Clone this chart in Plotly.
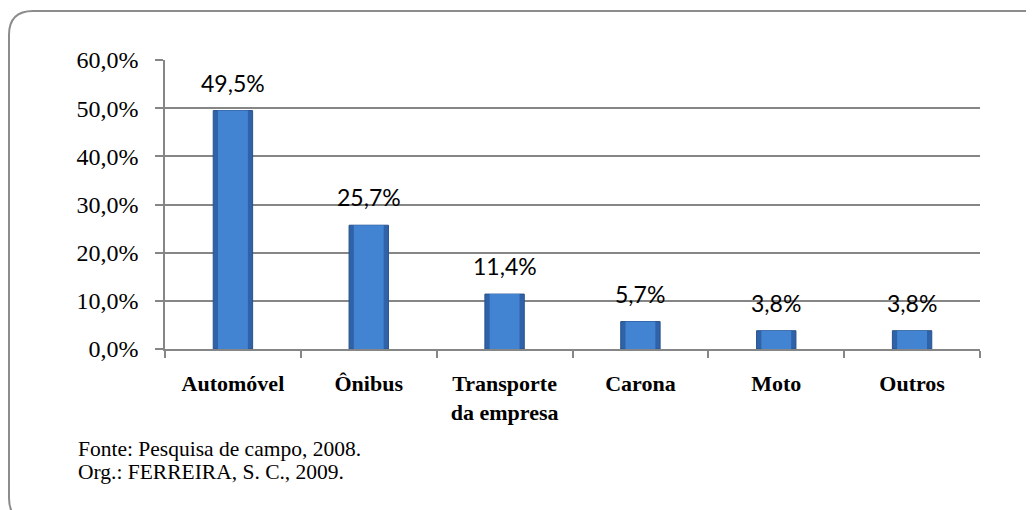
import plotly.graph_objects as go

categories = ["Automóvel", "Ônibus", "Transporte<br>da empresa", "Carona", "Moto", "Outros"]
values = [49.5, 25.7, 11.4, 5.7, 3.8, 3.8]
value_labels = ["49,5%", "25,7%", "11,4%", "5,7%", "3,8%", "3,8%"]
y_ticks = [0, 10, 20, 30, 40, 50, 60]
y_tick_labels = ["0,0%", "10,0%", "20,0%", "30,0%", "40,0%", "50,0%", "60,0%"]
note_lines = ["Fonte: Pesquisa de campo, 2008.", "Org.: FERREIRA, S. C., 2009."]

SERIF = "Liberation Serif, Times New Roman, serif"

# page has an 8px body margin; plot area at page px x 165..980, y 60..349
W, H = 1026, 502
ml, mr, mt, mb = 157, 54, 52, 161
PX0, PY0 = 165, 349          # page px of plot-area bottom-left
PW, PH = 815, 289

fig = go.Figure()
fig.add_trace(go.Bar(
    x=categories, y=values,
    marker=dict(color="#2F62A8", line=dict(color="#28528C", width=1)),
    width=0.29, hoverinfo="skip",
))
fig.add_trace(go.Bar(
    x=categories, y=values,
    marker=dict(color="#4283D2", line=dict(width=0)),
    width=0.22, hoverinfo="skip",
))

for c, v, t in zip(categories, values, value_labels):
    fig.add_annotation(
        x=c, y=v, text=t, showarrow=False, yanchor="bottom", yshift=12,
        font=dict(family="Lato", size=23, color="#000000"),
    )

fig.update_layout(
    width=W, height=H,
    margin=dict(l=ml, r=mr, t=mt, b=mb),
    paper_bgcolor="white", plot_bgcolor="white",
    showlegend=False, barmode="overlay",
    xaxis=dict(
        tickvals=categories, ticktext=[f"<b>{c}</b>" for c in categories],
        showline=True, linecolor="#868686", linewidth=1.5,
        ticks="outside", tickson="boundaries", ticklen=7, tickcolor="#868686", tickwidth=1.5,
        tickfont=dict(family=SERIF, size=22, color="#000000"),
        ticklabelstandoff=14,
        showgrid=False,
    ),
    yaxis=dict(
        range=[0, 60], tickvals=y_ticks, ticktext=y_tick_labels,
        showgrid=True, gridcolor="#868686", gridwidth=1.5,
        showline=True, linecolor="#868686", linewidth=1.5,
        ticks="outside", ticklen=8, tickcolor="#868686", tickwidth=1.5,
        tickfont=dict(family=SERIF, size=24, color="#000000"),
        ticklabelstandoff=12,
        zeroline=False,
    ),
)

# rounded frame (pixel path relative to plot-area bottom-left)
r = 24
x0, x1 = 9 - PX0, 1055 - PX0
y0, y1 = PY0 - 522, PY0 - 11
path = (f"M {x1},{y0} L {x0 + r},{y0} Q {x0},{y0} {x0},{y0 + r} "
        f"L {x0},{y1 - r} Q {x0},{y1} {x0 + r},{y1} L {x1 - r},{y1} "
        f"Q {x1},{y1} {x1},{y1 - r} Z")
fig.add_shape(type="path", xref="paper", yref="paper",
              xsizemode="pixel", ysizemode="pixel", xanchor=0, yanchor=0,
              path=path, line=dict(color="#8C8C8C", width=2),
              layer="below")

for line, py in zip(note_lines, [449, 472]):
    fig.add_annotation(
        text=line, xref="paper", yref="paper",
        x=(76 - PX0) / PW, y=(PY0 - py) / PH,
        xanchor="left", yanchor="middle", align="left", showarrow=False,
        font=dict(family=SERIF, size=21.5, color="#000000"),
    )

fig.write_html("out.html")
